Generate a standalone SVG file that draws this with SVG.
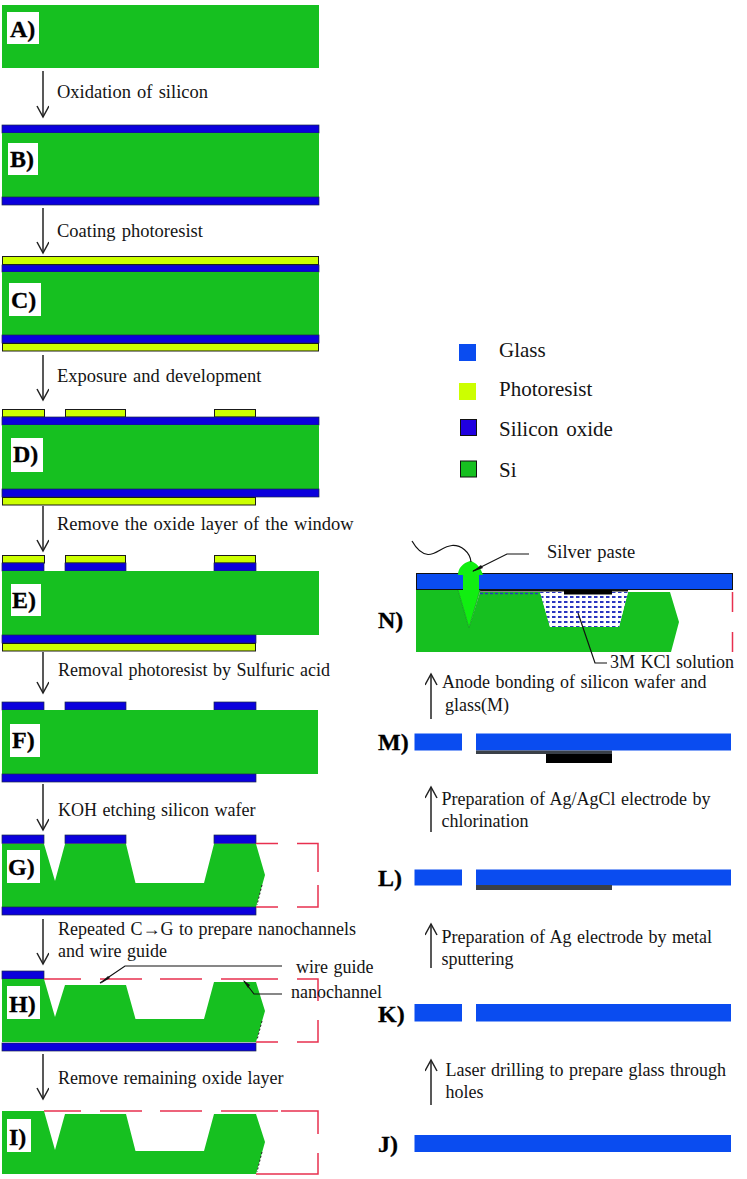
<svg xmlns="http://www.w3.org/2000/svg" width="747" height="1179" viewBox="0 0 747 1179">
<style>
text{font-family:"Liberation Serif","Times New Roman",serif;fill:#141414}
.t{font-size:18.5px;word-spacing:1.5px}
.s{font-size:18px;word-spacing:1px}
.l{font-size:24px;font-weight:bold;fill:#000;stroke:#000;stroke-width:.3}
.lg{font-size:21px;word-spacing:2.5px}
.si{fill:#16c020}
.ox{fill:#0b00dc;stroke:#1a2a4a;stroke-width:.7}
.pr{fill:#ccff00;stroke:#1a1a1a;stroke-width:1}
.gl{fill:#0a4cf0}
.box{fill:#fff}
.red{fill:none;stroke:#e8304f;stroke-width:1.5}
.blk{fill:none;stroke:#111;stroke-width:1.2}
.con{fill:none;stroke:#222;stroke-width:1.5}
.dot{fill:none;stroke:#222;stroke-width:1;stroke-dasharray:2 2}
</style>
<defs>
<marker id="v" markerUnits="userSpaceOnUse" markerWidth="16" markerHeight="14" refX="13" refY="6" orient="auto">
<path d="M2 0L13 6L2 12" fill="none" stroke="#222" stroke-width="1.5"/>
</marker>
<pattern id="kcl" patternUnits="userSpaceOnUse" width="6" height="5">
<rect width="6" height="5" fill="#fff"/>
<rect x="0" y="1" width="3.5" height="2" fill="#2a35c0"/>
</pattern>
</defs>

<g id="connectors">
<path class="con" marker-end="url(#v)" d="M43 71V117"/>
<path class="con" marker-end="url(#v)" d="M43 208V253"/>
<path class="con" marker-end="url(#v)" d="M43 355V400"/>
<path class="con" marker-end="url(#v)" d="M43 506V551"/>
<path class="con" marker-end="url(#v)" d="M43 652V693"/>
<path class="con" marker-end="url(#v)" d="M43 784V830"/>
<path class="con" marker-end="url(#v)" d="M43 919V964"/>
<path class="con" marker-end="url(#v)" d="M43 1054V1099"/>
<path class="con" marker-end="url(#v)" d="M431 1105V1060"/>
<path class="con" marker-end="url(#v)" d="M431 968V924"/>
<path class="con" marker-end="url(#v)" d="M431 832V787"/>
<path class="con" marker-end="url(#v)" d="M431 719V674"/>
</g>

<g id="steps-text" transform="translate(0 .7)">
<text class="t" x="57" y="97">Oxidation of silicon</text>
<text class="t" x="57" y="236">Coating photoresist</text>
<text class="t" x="57" y="381">Exposure and development</text>
<text class="t" x="57" y="529">Remove the oxide layer of the window</text>
<text class="s" x="58" y="675">Removal photoresist by Sulfuric acid</text>
<text class="s" x="58" y="815">KOH etching silicon wafer</text>
<text class="s" x="58" y="934">Repeated C→G to prepare nanochannels</text>
<text class="s" x="58" y="956">and wire guide</text>
<text class="s" x="58" y="1083">Remove remaining oxide layer</text>
<text class="s" x="445.5" y="1075">Laser drilling to prepare glass through</text>
<text class="s" x="445.5" y="1097">holes</text>
<text class="s" x="441.5" y="942">Preparation of Ag electrode by metal</text>
<text class="s" x="441.5" y="964">sputtering</text>
<text class="s" x="441.5" y="804">Preparation of Ag/AgCl electrode by</text>
<text class="s" x="441.5" y="826">chlorination</text>
<text class="s" x="442" y="687">Anode bonding of silicon wafer and</text>
<text class="s" x="445" y="710">glass(M)</text>
</g>

<g id="A"><rect class="si" x="2" y="5" width="317" height="63"/><rect class="box" x="7" y="12" width="32" height="32"/><text class="l" x="10" y="37">A)</text></g>

<g id="B"><rect class="ox" x="2" y="125" width="317" height="8"/><rect class="si" x="2" y="133" width="317" height="64"/><rect class="ox" x="2" y="197" width="317" height="8"/><rect class="box" x="8" y="143" width="30" height="32"/><text class="l" x="10" y="167">B)</text></g>

<g id="C"><rect class="pr" x="2.5" y="256.5" width="316" height="8"/><rect class="ox" x="2" y="265" width="317" height="7"/><rect class="si" x="2" y="272" width="317" height="63"/><rect class="ox" x="2" y="335" width="317" height="8"/><rect class="pr" x="2.5" y="343.5" width="316" height="7.5"/><rect class="box" x="9" y="283" width="32" height="33"/><text class="l" x="11" y="308">C)</text></g>

<g id="D"><rect class="pr" x="2.5" y="409.5" width="42" height="7.5"/><rect class="pr" x="65.5" y="409.5" width="60" height="7.5"/><rect class="pr" x="214.5" y="409.5" width="41" height="7.5"/><rect class="ox" x="2" y="417" width="317" height="8"/><rect class="si" x="2" y="425" width="317" height="64"/><rect class="ox" x="2" y="489" width="317" height="8"/><rect class="pr" x="2.5" y="497.5" width="253" height="7.5"/><rect class="box" x="11" y="438" width="32" height="34"/><text class="l" x="13" y="462">D)</text></g>

<g id="E"><rect class="pr" x="2.5" y="555.5" width="42" height="7.5"/><rect class="pr" x="65.5" y="555.5" width="60" height="7.5"/><rect class="pr" x="214.5" y="555.5" width="41" height="7.5"/><rect class="ox" x="2" y="563" width="42" height="8"/><rect class="ox" x="65" y="563" width="61" height="8"/><rect class="ox" x="214" y="563" width="42" height="8"/><rect class="si" x="2" y="571" width="317" height="64"/><rect class="ox" x="2" y="635" width="254" height="8"/><rect class="pr" x="2.5" y="643.5" width="253" height="7.5"/><rect class="box" x="11" y="584" width="30" height="32"/><text class="l" x="12" y="608">E)</text></g>

<g id="F"><rect class="ox" x="2" y="702" width="42" height="8"/><rect class="ox" x="65" y="702" width="61" height="8"/><rect class="ox" x="214" y="702" width="42" height="8"/><rect class="si" x="2" y="710" width="316" height="64"/><rect class="ox" x="2" y="774" width="254" height="8"/><rect class="box" x="10" y="724" width="30" height="33"/><text class="l" x="12" y="748">F)</text></g>

<g id="G"><rect class="ox" x="2" y="835" width="42" height="8.5"/><rect class="ox" x="65" y="835" width="61" height="8.5"/><rect class="ox" x="214" y="835" width="42" height="8.5"/><polygon class="si" points="2,844 44,844 55,881 65,844 126,844 135.5,883 204,883 214,844 256,844 265,875 256,907 2,907"/><rect class="ox" x="2" y="907" width="254" height="8"/><path class="dot" d="M262 885L257 905"/><path class="red" d="M256 843.5H278M297 843.5H318V872M318 885V907H297M278 907H256"/><rect class="box" x="7" y="850" width="33" height="33"/><text class="l" x="8" y="875">G)</text></g>

<g id="H"><rect class="ox" x="2" y="971" width="42" height="8"/><polygon class="si" points="2,979 44,979 55,1017 65,985 126,985 135.5,1019 204,1019 214,982 256,982 265,1011 256,1042 2,1042"/><rect class="ox" x="2" y="1043" width="254" height="8"/><path class="dot" d="M262 1021L257 1040"/><path class="red" d="M44 979H81M100 979H142M160 979H202M221 979H278M297 979H318V1001M318 1020V1042H297M278 1042H256"/><path class="blk" d="M100 983L125 966H282"/><polygon points="100,984 108,976 110,978" fill="#111"/><path class="blk" d="M244 981L254 994H282"/><polygon points="243,980 250,985 248,988" fill="#111"/><text class="s" x="296" y="972.7">wire guide</text><text class="s" x="291" y="997.7">nanochannel</text><rect class="box" x="7" y="986" width="33" height="33"/><text class="l" x="9" y="1012">H)</text></g>

<g id="I"><polygon class="si" points="2,1111 44,1111 55,1150 65,1114 126,1114 135.5,1151 204,1151 214,1114 256,1114 265,1142 256,1174 2,1174"/><path class="dot" d="M262 1152L257 1172"/><path class="red" d="M44 1111H81M100 1111H142M160 1111H202M221 1111H278M281 1111H318V1134M318 1153V1174H256"/><rect class="box" x="7" y="1119" width="24" height="33"/><text class="l" x="9" y="1145">I)</text></g>

<g id="legend">
<rect class="gl" x="459" y="344" width="17" height="17"/><text class="lg" x="499" y="357">Glass</text>
<rect x="459" y="383" width="17" height="17" fill="#ccff00"/><text class="lg" x="499" y="396">Photoresist</text>
<rect x="460.5" y="419.5" width="16" height="16" fill="#2000e0" stroke="#111" stroke-width="1"/><text class="lg" x="499" y="436">Silicon oxide</text>
<rect x="460.5" y="461" width="16" height="16" fill="#16c020" stroke="#111" stroke-width="1"/><text class="lg" x="499" y="477">Si</text>
</g>

<g id="N">
<polygon class="si" points="416,590 416,652 671,652 679,622 670,592 628,592 619,627 550,627 540,592 480,592 469,628 458,590"/>
<polygon fill="url(#kcl)" points="540,592 628,592 619,627 550,627"/>
<path d="M480 593.5H540" stroke="#2a35c0" stroke-width="1.5" stroke-dasharray="3 2"/>
<rect class="gl" x="416.5" y="573.5" width="316" height="16" stroke="#111" stroke-width="1"/>
<rect x="479" y="590" width="149" height="1.5" fill="#111"/>
<rect x="564" y="590" width="48" height="4.5" fill="#000"/>
<path class="red" d="M732.5 592V612M732.5 632V652"/>
<path fill="#11ee11" d="M463 590V575H458C458 568 463 563 470 561C476 562 481 568 483 575H479V590H480L469 628L458 590Z"/>
<path d="M458 590L469 628L480 590" fill="none" stroke="#0e9a1a" stroke-width=".8"/>
<path class="blk" d="M412 541C416 548 422 554 428 554.5C436 555 443 546 452 545.5C461 545 470 552 471 562"/>
<path class="blk" d="M473 571L507 554H529"/>
<polygon points="472,572 481,565 483,568" fill="#111"/>
<path class="blk" d="M578 613L595 663H607"/>
<text class="t" x="547" y="557.7">Silver paste</text>
<text class="s" x="610" y="667.7">3M KCl solution</text>
<text class="l" x="378" y="628">N)</text>
</g>

<g id="M"><rect class="gl" x="414.5" y="733.5" width="47.5" height="17"/><rect class="gl" x="476" y="733.5" width="255" height="17"/><rect x="476" y="750.5" width="136" height="3.5" fill="#3a4048"/><rect x="546" y="754" width="66" height="9" fill="#000"/><text class="l" x="378" y="750">M)</text></g>

<g id="L"><rect class="gl" x="414.5" y="869.5" width="47.5" height="16"/><rect class="gl" x="476" y="869.5" width="255" height="16"/><rect x="476" y="885" width="136" height="5" fill="#3a4048"/><text class="l" x="378" y="886">L)</text></g>

<g id="K"><rect class="gl" x="414.5" y="1004" width="47.5" height="17.5"/><rect class="gl" x="476" y="1004" width="255" height="17.5"/><text class="l" x="378" y="1022">K)</text></g>

<g id="J"><rect class="gl" x="414.5" y="1135" width="316.5" height="17"/><text class="l" x="378" y="1152">J)</text></g>
</svg>
